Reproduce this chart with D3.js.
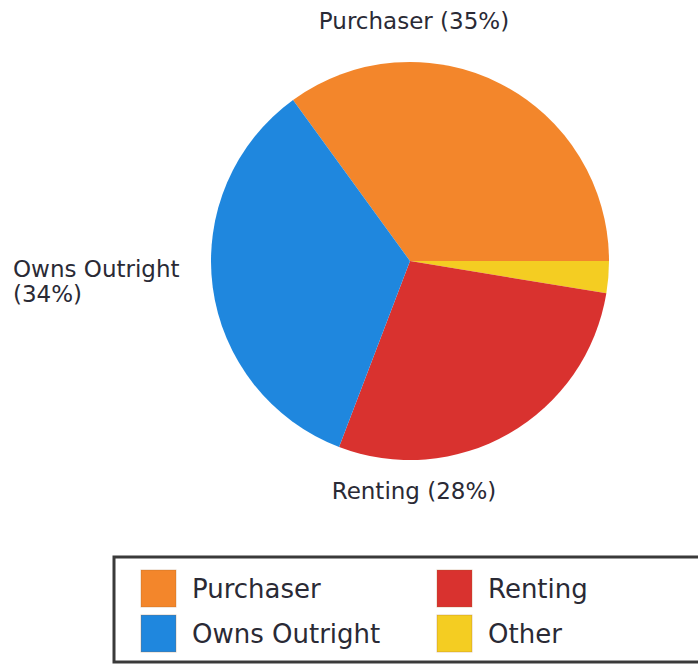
<!DOCTYPE html>
<html>
<head>
<meta charset="utf-8">
<script src="https://cdn.jsdelivr.net/npm/d3@7"></script>
<style>
  body { margin: 0; background: #fff; }
  svg { display: block; }
</style>
</head>
<body>
<div id="chart"></div>
<script>
// slices in clockwise order, starting where Purchaser begins
const categories = ["Purchaser", "Other", "Renting", "Owns Outright"];
const values = [35.0, 2.6, 28.2, 34.2];
const sliceLabels = ["Purchaser (35%)", "", "Renting (28%)", "Owns Outright\n(34%)"];
const colors = ["#f3862b", "#f4cd22", "#d9322f", "#1f87de"];
const legendOrder = ["Purchaser", "Renting", "Owns Outright", "Other"];

const width = 698, height = 666;
const cx = 410, cy = 261, radius = 199;

const svg = d3.select("#chart").append("svg")
  .attr("width", width)
  .attr("height", height);

const color = d3.scaleOrdinal().domain(categories).range(colors);

// Purchaser ends at 3 o'clock
const start = Math.PI / 2 - 2 * Math.PI * values[0] / d3.sum(values);
const pie = d3.pie().sort(null).value(d => d.value)
  .startAngle(start).endAngle(start + 2 * Math.PI);
const arcs = pie(categories.map((c, i) => ({ name: c, value: values[i], label: sliceLabels[i] })));

const arc = d3.arc().innerRadius(0).outerRadius(radius);

const g = svg.append("g").attr("transform", `translate(${cx},${cy})`);
g.selectAll("path")
  .data(arcs)
  .enter()
  .append("path")
  .attr("d", arc)
  .style("fill", d => color(d.data.name));

// labels: top, bottom, left of the pie
const labelFont = "DejaVu Sans, sans-serif";
const placeLabel = {
  "Purchaser": { x: 4, y: -radius - 33, anchor: "middle" },
  "Renting": { x: 4, y: radius + 39, anchor: "middle" },
  "Owns Outright": { x: -radius - 198, y: 16, anchor: "start" },
};

arcs.filter(d => d.data.label).forEach(d => {
  const p = placeLabel[d.data.name];
  const t = g.append("text")
    .attr("x", p.x)
    .attr("y", p.y)
    .attr("text-anchor", p.anchor)
    .style("font-family", labelFont)
    .style("font-size", "23px")
    .style("fill", "#2a2a35");
  d.data.label.split("\n").forEach((line, i) => {
    t.append("tspan")
      .attr("x", p.x)
      .attr("dy", i === 0 ? 0 : 25)
      .text(line);
  });
});

// Legend
const legend = svg.append("g");
legend.append("rect")
  .attr("x", 114)
  .attr("y", 557)
  .attr("width", 600)
  .attr("height", 105)
  .style("fill", "#fff")
  .style("stroke", "#3a3a3a")
  .style("stroke-width", 3);

const colX = d3.scalePoint().domain([0, 1]).range([141, 437]);
const rowY = d3.scalePoint().domain([0, 1]).range([570, 615]);

const items = legend.selectAll("g.item")
  .data(legendOrder)
  .enter()
  .append("g")
  .attr("class", "item")
  .attr("transform", (d, i) => `translate(${colX(i % 2)},${rowY(Math.floor(i / 2))})`);

items.append("rect")
  .attr("width", 35)
  .attr("height", 37)
  .style("fill", d => color(d))
  .style("stroke", "#a06020")
  .style("stroke-opacity", 0.3);

items.append("text")
  .attr("x", 51)
  .attr("y", 28)
  .style("font-family", labelFont)
  .style("font-size", "26px")
  .style("fill", "#2a2a35")
  .text(d => d);
</script>
</body>
</html>
